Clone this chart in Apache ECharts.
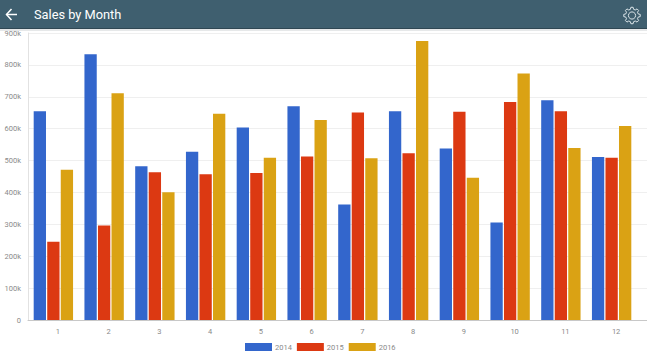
<!DOCTYPE html>
<html>
<head>
<meta charset="utf-8">
<style>html,body{margin:0;padding:0;background:#fff}#c{width:647px;height:355px}</style>
<script src="https://cdn.jsdelivr.net/npm/echarts@6/dist/echarts.min.js"></script>
</head>
<body>
<div id="c"></div>
<script>
const months = ['1','2','3','4','5','6','7','8','9','10','11','12'];
const sales2014 = [655000,833000,482000,528000,604000,670000,362000,655000,538000,306000,689000,511000];
const sales2015 = [245000,296000,463000,457000,461000,513000,651000,523000,653000,684000,655000,509000];
const sales2016 = [471000,711000,401000,647000,509000,627000,507000,875000,446000,773000,539000,608000];

const chart = echarts.init(document.getElementById('c'), null, {renderer:'svg'});
const labelColor = '#8a8a8a';
const font = 'Roboto';

// gear outline
const gearCx = 632, gearCy = 15.5, teeth = 8, gearPts = [];
for (let i = 0; i < teeth; i++) {
  const a = i * 2 * Math.PI / teeth;
  const step = 2 * Math.PI / teeth;
  gearPts.push([gearCx + 8.3*Math.cos(a-0.17*step), gearCy + 8.3*Math.sin(a-0.17*step)]);
  gearPts.push([gearCx + 8.3*Math.cos(a+0.17*step), gearCy + 8.3*Math.sin(a+0.17*step)]);
  gearPts.push([gearCx + 6.4*Math.cos(a+0.32*step), gearCy + 6.4*Math.sin(a+0.32*step)]);
  gearPts.push([gearCx + 6.4*Math.cos(a+0.68*step), gearCy + 6.4*Math.sin(a+0.68*step)]);
}

function series(name, data, color){
  return {name, type:'bar', data, xAxisIndex:0, yAxisIndex:0, barWidth:12.3, barGap:'10%',
    itemStyle:{color}, silent:true, animation:false};
}

chart.setOption({
  animation:false,
  backgroundColor:'#fff',
  title:{text:'Sales by Month', left:34, top:6, padding:0, textStyle:{color:'#fff', fontFamily:font, fontWeight:400, fontSize:12.8, lineHeight:16}},
  legend:{left:245, top:343, padding:0, itemWidth:27, itemHeight:8, itemGap:5, icon:'rect',
    data:['2014','2015','2016'],
    textStyle:{color:labelColor, fontFamily:font, fontSize:7.5, padding:[0,0,0,-2]}},
  grid:[
    {left:28, top:33, width:609, bottom:35},
    {left:28, top:33, right:0, bottom:35}
  ],
  xAxis:[
    {type:'category', gridIndex:0, data:months, boundaryGap:true,
     axisLine:{show:false}, axisTick:{show:false},
     axisLabel:{color:labelColor, fontFamily:font, fontSize:7.5, margin:7, padding:[0,0,0,9], interval:0}},
    {type:'category', gridIndex:1, data:months,
     axisLine:{show:true, lineStyle:{color:'#c8c8c8', width:1}}, axisTick:{show:false}, axisLabel:{show:false}}
  ],
  yAxis:[
    {type:'value', gridIndex:0, min:0, max:900000, interval:100000, show:false, splitLine:{show:false}},
    {type:'value', gridIndex:1, min:0, max:900000, interval:100000,
     axisLine:{show:true, lineStyle:{color:'#e2e2e2', width:1}}, axisTick:{show:false},
     splitLine:{show:true, lineStyle:{color:'#efefef', width:1}},
     axisLabel:{color:labelColor, fontFamily:font, fontSize:7.5, margin:7,
       formatter:v => v === 0 ? '0' : (v/1000)+'k'}}
  ],
  series:[
    series('2014', sales2014, '#3366CC'),
    series('2015', sales2015, '#DC3912'),
    series('2016', sales2016, '#DAA214')
  ],
  graphic:[
    {type:'rect', z:-1, shape:{x:0,y:0,width:647,height:28}, style:{fill:'#3F5F6F'}},
    {type:'rect', z:-1, shape:{x:0,y:28,width:647,height:1}, style:{fill:'#2F4753'}},
    {type:'rect', z:-1, shape:{x:0,y:29,width:647,height:2}, style:{fill:'#E6E8E9'}},
    {type:'polyline', shape:{points:[[11.5,9],[6.5,14.5],[11.5,20]]}, style:{stroke:'#fff', lineWidth:1.5, fill:null}},
    {type:'line', shape:{x1:6.5,y1:14.5,x2:17,y2:14.5}, style:{stroke:'#fff', lineWidth:1.5}},
    {type:'polygon', shape:{points:gearPts}, style:{stroke:'#DCE6EA', lineWidth:1, fill:null}},
    {type:'circle', shape:{cx:gearCx,cy:gearCy,r:3.6}, style:{stroke:'#DCE6EA', lineWidth:1, fill:null}}
  ]
});
</script>
</body>
</html>
